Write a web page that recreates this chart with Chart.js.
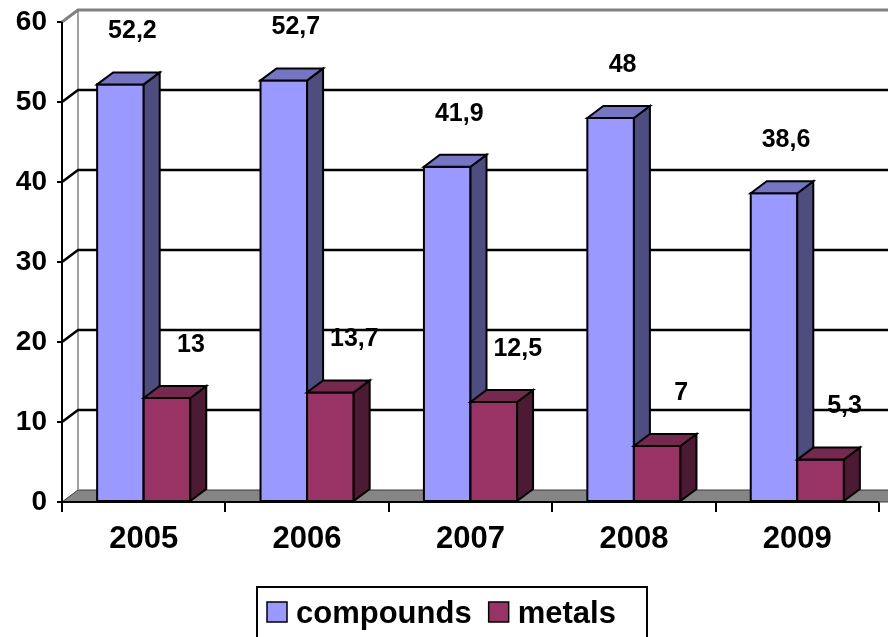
<!DOCTYPE html>
<html>
<head>
<meta charset="utf-8">
<script src="https://cdn.jsdelivr.net/npm/chart.js@4"></script>
<style>
  html, body { margin: 0; padding: 0; background: #fff; }
  #chart { display: block; }
</style>
</head>
<body>
<canvas id="chart" width="888" height="637"></canvas>
<script>
const categories = ['2005', '2006', '2007', '2008', '2009'];
const compounds = [52.2, 52.7, 41.9, 48, 38.6];
const metals = [13, 13.7, 12.5, 7, 5.3];
const seriesNames = ['compounds', 'metals'];

const yMin = 0;
const yMax = 60;
const yStep = 10;

// colours for front / side / top faces
const frontColors = ['#9999FF', '#993366'];
const sideColors = ['#4D4D80', '#4D1A33'];
const topColors = ['#7575C4', '#77284F'];

const FONT = '"Liberation Sans", Arial, sans-serif';
const DX = 16, DY = 12;            // 3d depth
const labelShift = [12, 24];       // data label x nudge per series

function fmt(v) {
    return String(v).replace('.', ',');
}

const threeD = {
    id: 'threeD',
    beforeDatasetsDraw(chart) {
        const ctx = chart.ctx;
        const ca = chart.chartArea;
        const y = chart.scales.y;
        ctx.save();

        // floor
        ctx.beginPath();
        ctx.moveTo(ca.left, ca.bottom);
        ctx.lineTo(ca.left + DX, ca.bottom - DY);
        ctx.lineTo(ca.right + DX + 20, ca.bottom - DY);
        ctx.lineTo(ca.right + 20, ca.bottom);
        ctx.closePath();
        ctx.fillStyle = '#858585';
        ctx.fill();
        ctx.strokeStyle = '#3a3a3a';
        ctx.lineWidth = 1;
        ctx.stroke();

        // back wall left edge
        ctx.strokeStyle = '#a0a0a0';
        ctx.lineWidth = 2;
        ctx.beginPath();
        ctx.moveTo(ca.left + DX, y.getPixelForValue(yMax) - DY);
        ctx.lineTo(ca.left + DX, ca.bottom - DY);
        ctx.stroke();

        // gridlines on back wall + side wall
        for (let v = yMin + yStep; v <= yMax; v += yStep) {
            const yf = y.getPixelForValue(v);
            const top = v === yMax;
            ctx.strokeStyle = top ? '#808080' : '#000';
            ctx.lineWidth = top ? 3 : 2.5;
            ctx.beginPath();
            ctx.moveTo(ca.left, yf);
            ctx.lineTo(ca.left + DX, yf - DY);
            ctx.lineTo(chart.width + 5, yf - DY);
            ctx.stroke();
        }

        // axis lines again over the floor
        ctx.strokeStyle = '#000';
        ctx.lineWidth = 2;
        ctx.beginPath();
        ctx.moveTo(ca.left, y.getPixelForValue(yMax));
        ctx.lineTo(ca.left, ca.bottom);
        ctx.lineTo(ca.right, ca.bottom);
        ctx.stroke();
        ctx.restore();
    },
    afterDatasetsDraw(chart) {
        const ctx = chart.ctx;
        ctx.save();
        ctx.strokeStyle = '#000';
        ctx.lineWidth = 2;
        ctx.lineJoin = 'miter';
        const n = chart.data.labels.length;
        for (let i = 0; i < n; i++) {
            chart.data.datasets.forEach((ds, d) => {
                const bar = chart.getDatasetMeta(d).data[i];
                const l = bar.x - bar.width / 2;
                const r = bar.x + bar.width / 2;
                const t = bar.y;
                const b = bar.base;
                // front
                ctx.fillStyle = frontColors[d];
                ctx.fillRect(l, t, r - l, b - t);
                ctx.strokeRect(l, t, r - l, b - t);
                // side
                ctx.beginPath();
                ctx.moveTo(r, t);
                ctx.lineTo(r + DX, t - DY);
                ctx.lineTo(r + DX, b - DY);
                ctx.lineTo(r, b);
                ctx.closePath();
                ctx.fillStyle = sideColors[d];
                ctx.fill();
                ctx.stroke();
                // top
                ctx.beginPath();
                ctx.moveTo(l, t);
                ctx.lineTo(l + DX, t - DY);
                ctx.lineTo(r + DX, t - DY);
                ctx.lineTo(r, t);
                ctx.closePath();
                ctx.fillStyle = topColors[d];
                ctx.fill();
                ctx.stroke();
            });
        }

        // data labels
        ctx.fillStyle = '#000';
        ctx.font = 'bold 25px ' + FONT;
        ctx.textAlign = 'center';
        ctx.textBaseline = 'middle';
        chart.data.datasets.forEach((ds, d) => {
            chart.getDatasetMeta(d).data.forEach((bar, i) => {
                ctx.fillText(fmt(ds.data[i]), bar.x + labelShift[d], bar.y - 53);
            });
        });
        ctx.restore();
    },
    afterDraw(chart) {
        // legend with frame
        const ctx = chart.ctx;
        ctx.save();
        ctx.font = 'bold 31px ' + FONT;
        ctx.textBaseline = 'alphabetic';
        ctx.textAlign = 'left';
        const boxL = 257, boxT = 587, boxR = 647;
        ctx.strokeStyle = '#000';
        ctx.lineWidth = 2;
        ctx.strokeRect(boxL, boxT, boxR - boxL, 70);
        let x = boxL + 10;
        chart.data.datasets.forEach((ds, d) => {
            ctx.fillStyle = frontColors[d];
            ctx.fillRect(x, 602, 20, 20);
            ctx.lineWidth = 1.5;
            ctx.strokeRect(x, 602, 20, 20);
            x += 29;
            ctx.fillStyle = '#000';
            ctx.fillText(ds.label, x, 623);
            x += ctx.measureText(ds.label).width + 17;
        });
        ctx.restore();
    }
};

new Chart(document.getElementById('chart'), {
    type: 'bar',
    data: {
        labels: categories,
        datasets: [
            { label: seriesNames[0], data: compounds, backgroundColor: frontColors[0], borderColor: '#000', borderWidth: 2 },
            { label: seriesNames[1], data: metals, backgroundColor: frontColors[1], borderColor: '#000', borderWidth: 2 }
        ]
    },
    options: {
        responsive: false,
        devicePixelRatio: 1,
        animation: false,
        layout: { padding: { left: 0, right: 9, top: 22, bottom: 0 } },
        datasets: {
            bar: { categoryPercentage: 0.57, barPercentage: 1.0 }
        },
        plugins: {
            legend: { display: false },
            tooltip: { enabled: false }
        },
        scales: {
            x: {
                offset: true,
                grid: { offset: true, drawOnChartArea: false, color: '#000', lineWidth: 2, tickLength: 10 },
                border: { display: true, color: '#000', width: 2 },
                ticks: { color: '#000', padding: 9, font: { family: FONT, size: 31, weight: 'bold' } },
                afterFit: s => { s.height = 135; }
            },
            y: {
                min: yMin,
                max: yMax,
                ticks: { stepSize: yStep, color: '#000', padding: 10, font: { family: FONT, size: 28, weight: 'bold' } },
                grid: { drawOnChartArea: false, color: '#000', lineWidth: 2, tickLength: 5 },
                border: { display: true, color: '#000', width: 2 },
                afterFit: s => { s.width = 62; s.paddingTop = 0; s.paddingBottom = 0; }
            }
        }
    },
    plugins: [threeD]
});
</script>
</body>
</html>
